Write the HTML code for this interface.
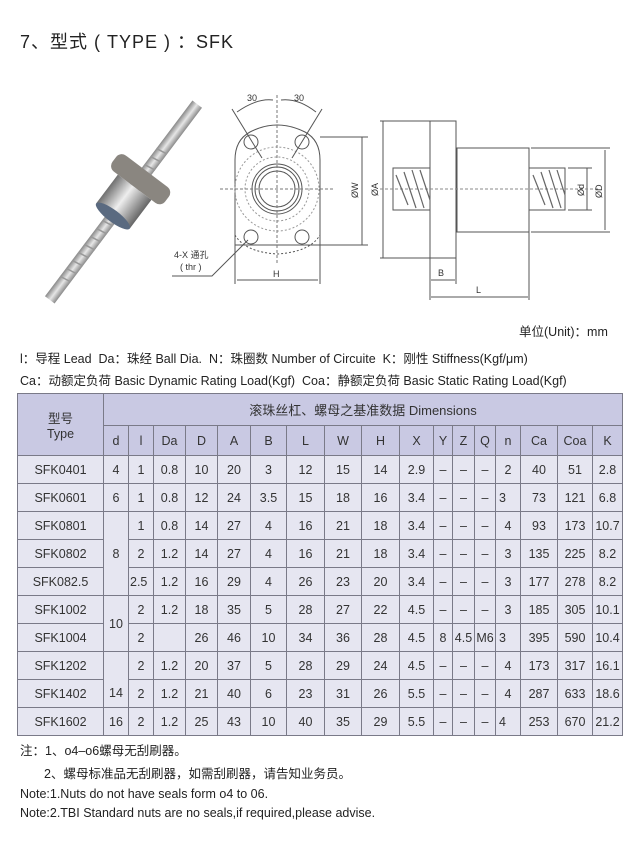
<!DOCTYPE html>
<html><head><meta charset="utf-8"><style>
body{margin:0;width:640px;height:849px;background:#fff;position:relative;overflow:hidden;font-family:"Liberation Sans","Noto Sans CJK SC",sans-serif;color:#222}
.t{position:absolute;white-space:nowrap}
table{position:absolute;left:17px;top:393px;border-collapse:collapse;table-layout:fixed;font-size:12.5px;color:#333}
td{border:1px solid #7a7a88;text-align:center;padding:0;height:27px;background:#e6e6f1}
tr.h td{background:#c9c9e3}
td.tl{text-align:left;padding-left:3px}
</style></head><body>
<div class="t" style="left:20px;top:28px;font-size:18px;letter-spacing:1px">7、型式 ( TYPE ) ：SFK</div>

<svg style="position:absolute;left:0;top:0" width="640" height="330">
<defs>
<linearGradient id="rod" x1="0" y1="0" x2="1" y2="0"><stop offset="0" stop-color="#888"/><stop offset=".5" stop-color="#e6e6e6"/><stop offset="1" stop-color="#8a8a8a"/></linearGradient>
<linearGradient id="nut" x1="0" y1="0" x2="1" y2="0"><stop offset="0" stop-color="#6f6f6f"/><stop offset=".45" stop-color="#eee"/><stop offset="1" stop-color="#666"/></linearGradient>
</defs>
<g transform="rotate(37 125 200)">
<rect x="119" y="80" width="12" height="245" fill="url(#rod)"/>
<g stroke="#999" stroke-width="1.5"><line x1="119" y1="230" x2="131" y2="228"/><line x1="119" y1="240" x2="131" y2="238"/><line x1="119" y1="250" x2="131" y2="248"/><line x1="119" y1="260" x2="131" y2="258"/><line x1="119" y1="270" x2="131" y2="268"/><line x1="119" y1="280" x2="131" y2="278"/><line x1="119" y1="290" x2="131" y2="288"/><line x1="119" y1="300" x2="131" y2="298"/><line x1="119" y1="140" x2="131" y2="138"/><line x1="119" y1="150" x2="131" y2="148"/><line x1="119" y1="160" x2="131" y2="158"/></g>
<rect x="92" y="164" width="66" height="20" rx="7" fill="#8a8680"/>
<rect x="104" y="184" width="42" height="36" fill="url(#nut)"/>
<ellipse cx="125" cy="220" rx="21" ry="6" fill="#5a6a80"/>
</g>
<!-- front view -->
<g fill="none" stroke="#555" stroke-width="1">
<path d="M235 160 L235 245 L320 245 L320 160"/>
<path d="M235 160 Q235 140 250 132 Q277 118 305 132 Q320 140 320 160"/>
<path d="M235 235 Q245 252 277 254 Q310 252 320 235" stroke-dasharray="2 2"/>
<circle cx="277" cy="189" r="25"/><circle cx="277" cy="189" r="18"/><circle cx="277" cy="189" r="22"/>
<circle cx="277" cy="189" r="42" stroke-dasharray="2 2" stroke="#999"/>
<circle cx="277" cy="189" r="32" stroke-dasharray="2 2" stroke="#999"/>
<circle cx="251" cy="142" r="7"/><circle cx="302" cy="142" r="7"/><circle cx="251" cy="237" r="7"/><circle cx="302" cy="237" r="7"/>
<line x1="277" y1="95" x2="277" y2="265" stroke-dasharray="3 2" stroke="#777"/>
<line x1="220" y1="189" x2="335" y2="189" stroke-dasharray="3 2" stroke="#777"/>
<line x1="232" y1="109" x2="262" y2="158"/><line x1="322" y1="109" x2="292" y2="158"/>
<path d="M237 112 Q257 98 273 100"/><path d="M281 100 Q298 98 316 112"/>
<line x1="320" y1="137" x2="368" y2="137"/><line x1="320" y1="245" x2="368" y2="245"/>
<line x1="362" y1="137" x2="362" y2="245"/>
<line x1="235" y1="245" x2="235" y2="284"/><line x1="320" y1="245" x2="320" y2="284"/>
<line x1="237" y1="280" x2="318" y2="280"/>
<polyline points="172,276 212,276 248,240"/>
<rect x="430" y="121" width="26" height="137"/>
<rect x="457" y="148" width="72" height="84"/>
<rect x="393" y="168" width="37" height="42"/><rect x="529" y="168" width="36" height="42"/>
<line x1="380" y1="121" x2="430" y2="121"/><line x1="380" y1="258" x2="430" y2="258"/>
<line x1="383" y1="121" x2="383" y2="258"/>
<line x1="531" y1="148" x2="610" y2="148"/><line x1="531" y1="232" x2="610" y2="232"/>
<line x1="605" y1="150" x2="605" y2="230"/>
<line x1="568" y1="168" x2="592" y2="168"/><line x1="568" y1="210" x2="592" y2="210"/>
<line x1="587" y1="168" x2="587" y2="210"/>
<line x1="430" y1="258" x2="430" y2="300"/><line x1="456" y1="258" x2="456" y2="284"/><line x1="529" y1="232" x2="529" y2="300"/>
<line x1="431" y1="280" x2="455" y2="280"/><line x1="431" y1="297" x2="528" y2="297"/>
<line x1="380" y1="189" x2="600" y2="189" stroke-dasharray="3 2" stroke="#888"/>
</g>
<g stroke="#666" stroke-width="1.2">
<line x1="396" y1="175" x2="408" y2="205"/><line x1="404" y1="172" x2="416" y2="208"/><line x1="412" y1="170" x2="424" y2="208"/><line x1="420" y1="170" x2="430" y2="200"/>
<line x1="533" y1="175" x2="545" y2="205"/><line x1="541" y1="172" x2="553" y2="208"/><line x1="549" y1="170" x2="561" y2="208"/><line x1="557" y1="170" x2="565" y2="195"/>
</g>
<g font-size="9" fill="#333" font-family="Liberation Sans,sans-serif">
<text x="247" y="101">30</text><text x="294" y="101">30</text>
<text x="273" y="277">H</text><text x="438" y="276">B</text><text x="476" y="293">L</text>
<text transform="translate(358 198) rotate(-90)">ØW</text>
<text transform="translate(378 196) rotate(-90)">ØA</text>
<text transform="translate(584 196) rotate(-90)">Ød</text>
<text transform="translate(602 198) rotate(-90)">ØD</text>
<text x="174" y="258" font-family="Liberation Sans,Noto Sans CJK SC,sans-serif">4-X 通孔</text>
<text x="180" y="270">( thr )</text>
</g>
</svg>

<div class="t" style="left:519px;top:321px;font-size:12.5px">单位(Unit)：mm</div>
<div class="t" style="left:20px;top:348px;font-size:12.5px">l：导程 Lead&nbsp; Da：珠经 Ball Dia.&nbsp; N：珠圈数 Number of Circuite&nbsp; K：刚性 Stiffness(Kgf/μm)</div>
<div class="t" style="left:20px;top:370px;font-size:12.5px">Ca：动额定负荷 Basic Dynamic Rating Load(Kgf)&nbsp; Coa：静额定负荷 Basic Static Rating Load(Kgf)</div>

<table>
<colgroup><col style="width:86px"><col style="width:25px"><col style="width:25px"><col style="width:32px"><col style="width:32px"><col style="width:33px"><col style="width:36px"><col style="width:38px"><col style="width:37px"><col style="width:38px"><col style="width:34px"><col style="width:19px"><col style="width:22px"><col style="width:21px"><col style="width:25px"><col style="width:37px"><col style="width:35px"><col style="width:30px"></colgroup>
<tr class="h"><td rowspan="2" style="height:60px">型号<br>Type</td><td colspan="17" style="height:31px;font-size:13px">滚珠丝杠、螺母之基准数据 Dimensions</td></tr>
<tr class="h"><td style="height:29px">d</td><td>l</td><td>Da</td><td>D</td><td>A</td><td>B</td><td>L</td><td>W</td><td>H</td><td>X</td><td>Y</td><td>Z</td><td>Q</td><td>n</td><td>Ca</td><td>Coa</td><td>K</td></tr>
<tr><td>SFK0401</td><td>4</td><td>1</td><td>0.8</td><td>10</td><td>20</td><td>3</td><td>12</td><td>15</td><td>14</td><td>2.9</td><td>–</td><td>–</td><td>–</td><td>2</td><td>40</td><td>51</td><td>2.8</td></tr>
<tr><td>SFK0601</td><td>6</td><td>1</td><td>0.8</td><td>12</td><td>24</td><td>3.5</td><td>15</td><td>18</td><td>16</td><td>3.4</td><td>–</td><td>–</td><td>–</td><td class="tl">3</td><td>73</td><td>121</td><td>6.8</td></tr>
<tr><td>SFK0801</td><td rowspan="3">8</td><td>1</td><td>0.8</td><td>14</td><td>27</td><td>4</td><td>16</td><td>21</td><td>18</td><td>3.4</td><td>–</td><td>–</td><td>–</td><td>4</td><td>93</td><td>173</td><td>10.7</td></tr>
<tr><td>SFK0802</td><td>2</td><td>1.2</td><td>14</td><td>27</td><td>4</td><td>16</td><td>21</td><td>18</td><td>3.4</td><td>–</td><td>–</td><td>–</td><td>3</td><td>135</td><td>225</td><td>8.2</td></tr>
<tr><td>SFK082.5</td><td class="tl" style="padding-left:1px">2.5</td><td>1.2</td><td>16</td><td>29</td><td>4</td><td>26</td><td>23</td><td>20</td><td>3.4</td><td>–</td><td>–</td><td>–</td><td>3</td><td>177</td><td>278</td><td>8.2</td></tr>
<tr><td>SFK1002</td><td rowspan="2">10</td><td>2</td><td>1.2</td><td>18</td><td>35</td><td>5</td><td>28</td><td>27</td><td>22</td><td>4.5</td><td>–</td><td>–</td><td>–</td><td>3</td><td>185</td><td>305</td><td>10.1</td></tr>
<tr><td>SFK1004</td><td>2</td><td></td><td>26</td><td>46</td><td>10</td><td>34</td><td>36</td><td>28</td><td>4.5</td><td>8</td><td>4.5</td><td>M6</td><td class="tl">3</td><td>395</td><td>590</td><td>10.4</td></tr>
<tr><td>SFK1202</td><td rowspan="2" style="vertical-align:bottom;padding-bottom:7px">14</td><td>2</td><td>1.2</td><td>20</td><td>37</td><td>5</td><td>28</td><td>29</td><td>24</td><td>4.5</td><td>–</td><td>–</td><td>–</td><td>4</td><td>173</td><td>317</td><td>16.1</td></tr>
<tr><td>SFK1402</td><td>2</td><td>1.2</td><td>21</td><td>40</td><td>6</td><td>23</td><td>31</td><td>26</td><td>5.5</td><td>–</td><td>–</td><td>–</td><td>4</td><td>287</td><td>633</td><td>18.6</td></tr>
<tr><td>SFK1602</td><td>16</td><td>2</td><td>1.2</td><td>25</td><td>43</td><td>10</td><td>40</td><td>35</td><td>29</td><td>5.5</td><td>–</td><td>–</td><td>–</td><td class="tl">4</td><td>253</td><td>670</td><td>21.2</td></tr>
</table>

<div class="t" style="left:20px;top:740px;font-size:12.5px">注：1、o4–o6螺母无刮刷器。</div>
<div class="t" style="left:44px;top:763px;font-size:12.5px">2、螺母标准品无刮刷器，如需刮刷器，请告知业务员。</div>
<div class="t" style="left:20px;top:787px;font-size:12.5px">Note:1.Nuts do not have seals form o4 to 06.</div>
<div class="t" style="left:20px;top:806px;font-size:12.5px">Note:2.TBI Standard nuts are no seals,if required,please advise.</div>
</body></html>
